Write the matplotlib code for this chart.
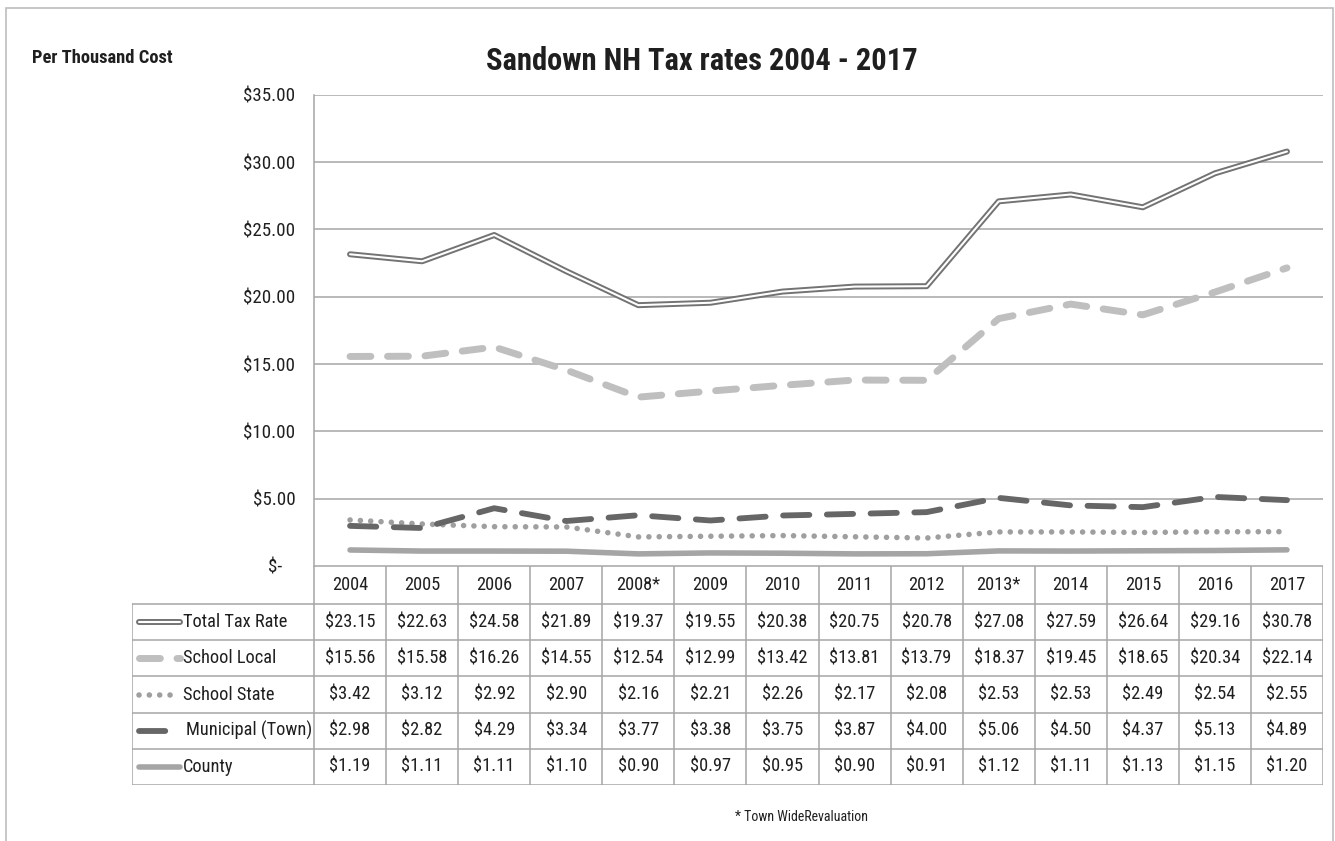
import matplotlib
matplotlib.use("Agg")
import matplotlib.pyplot as plt
from matplotlib import font_manager
from matplotlib.patches import Rectangle

# ---------------- data ----------------
years = ["2004", "2005", "2006", "2007", "2008*", "2009", "2010", "2011",
         "2012", "2013*", "2014", "2015", "2016", "2017"]
series_names = ["Total Tax Rate", "School Local", "School State",
                "Municipal (Town)", "County"]
total_tax = [23.15, 22.63, 24.58, 21.89, 19.37, 19.55, 20.38, 20.75, 20.78,
             27.08, 27.59, 26.64, 29.16, 30.78]
school_local = [15.56, 15.58, 16.26, 14.55, 12.54, 12.99, 13.42, 13.81, 13.79,
                18.37, 19.45, 18.65, 20.34, 22.14]
school_state = [3.42, 3.12, 2.92, 2.90, 2.16, 2.21, 2.26, 2.17, 2.08,
                2.53, 2.53, 2.49, 2.54, 2.55]
municipal = [2.98, 2.82, 4.29, 3.34, 3.77, 3.38, 3.75, 3.87, 4.00,
             5.06, 4.50, 4.37, 5.13, 4.89]
county = [1.19, 1.11, 1.11, 1.10, 0.90, 0.97, 0.95, 0.90, 0.91,
          1.12, 1.11, 1.13, 1.15, 1.20]
y_ticks = [0, 5, 10, 15, 20, 25, 30, 35]
title = "Sandown NH Tax rates 2004 - 2017"
y_label = "Per Thousand Cost"
footnote = "* Town WideRevaluation"

# ---------------- fonts ----------------
avail = {f.name for f in font_manager.fontManager.ttflist}
if "Liberation Sans Narrow" in avail:
    FAM = ["Liberation Sans Narrow", "DejaVu Sans"]
elif "Roboto Condensed" in avail:
    FAM = ["Roboto Condensed", "DejaVu Sans"]
else:
    FAM = ["Liberation Sans", "DejaVu Sans"]
plt.rcParams["font.family"] = FAM

W, H = 1335, 841
fig = plt.figure(figsize=(W / 100, H / 100), dpi=100)


def fx(px):
    return px / W


def fy(py):
    return 1 - py / H


TXT = "#1f1f1f"
GRID = "#a6a6a6"
FS = 13.2

# layout in pixels
PL, PR, PT, P0 = 314, 1323, 94.7, 566
TL, TB = 132, 785
col_w = (PR - PL) / len(years)

ax = fig.add_axes([fx(PL), fy(P0), (PR - PL) / W, (P0 - PT) / H])
ax.set_xlim(-0.5, len(years) - 0.5)
ax.set_ylim(0, 35)
ax.set_yticks(y_ticks)
ax.set_yticklabels([("$%.2f" % v) if v else "$-   " for v in y_ticks],
                   fontsize=FS + 0.5, color=TXT)
ax.tick_params(axis="y", length=0, pad=13.5)
ax.set_xticks([])
for s in ["top", "right", "bottom"]:
    ax.spines[s].set_visible(False)
ax.spines["left"].set_color(GRID)
ax.spines["left"].set_linewidth(1.1)
ax.yaxis.grid(True, color=GRID, linewidth=1.1)
ax.set_axisbelow(True)

styles = [
    dict(color="#737373", lw=4.3, solid_capstyle="round"),
    dict(color="#bfbfbf", lw=5.0, linestyle=(0, (3, 2.4)), dash_capstyle="round"),
    dict(color="#9f9f9f", lw=4.0, linestyle=(0, (0.01, 1.85)), dash_capstyle="round"),
    dict(color="#666666", lw=4.2, linestyle=(0, (4.5, 3.0)), dash_capstyle="round"),
    dict(color="#a5a5a5", lw=4.0, solid_capstyle="round"),
]
inner_total = dict(color="white", lw=1.5, solid_capstyle="round")

data = [total_tax, school_local, school_state, municipal, county]
xs = list(range(len(years)))
for vals, st in zip(data, styles):
    ax.plot(xs, vals, **st)
    if st is styles[0]:
        ax.plot(xs, vals, **inner_total)

# ---------------- data table ----------------
tab = fig.add_axes([fx(TL), fy(TB), (PR - TL) / W, (TB - P0) / H])
x_left = -0.5 - (PL - TL) / col_w
tab.set_xlim(x_left, len(years) - 0.5)
hdr = (604 - P0) / ((TB - 604) / 5)
tab.set_ylim(5, -hdr)
tab.axis("off")

n = len(series_names)
LC = GRID
LW = 1.1
# horizontal lines
tab.plot([-0.5, len(years) - 0.5], [-hdr, -hdr], color=LC, lw=LW)
for r in range(n + 1):
    tab.plot([x_left, len(years) - 0.5], [r, r], color=LC, lw=LW)
# vertical lines
tab.plot([x_left, x_left], [0, n], color=LC, lw=LW)
for k in range(len(years) + 1):
    tab.plot([k - 0.5, k - 0.5], [-hdr, n], color=LC, lw=LW)

for i, yl in enumerate(years):
    tab.text(i, -hdr / 2, yl, ha="center", va="center", fontsize=FS, color=TXT)
for r, vals in enumerate(data):
    for i, v in enumerate(vals):
        tab.text(i, r + 0.5, "$%.2f" % v, ha="center", va="center",
                 fontsize=FS, color=TXT)


def px2x(px):
    return -0.5 + (px - PL) / col_w


for r, (name, st) in enumerate(zip(series_names, styles)):
    key_end = 166 if r == 3 else 180
    text_x = 186 if r == 3 else 183
    tab.plot([px2x(139), px2x(key_end)], [r + 0.5, r + 0.5], **st)
    if r == 0:
        tab.plot([px2x(139), px2x(key_end)], [r + 0.5, r + 0.5], **inner_total)
    tab.text(px2x(text_x), r + 0.5, name, ha="left", va="center",
             fontsize=FS, color=TXT)

# ---------------- texts ----------------
fig.text(fx(702), fy(70), title, ha="center", va="baseline",
         fontsize=22, fontweight="bold", color=TXT)
fig.text(fx(32), fy(63), y_label, ha="left", va="baseline",
         fontsize=13.3, fontweight="bold", color=TXT)
fig.text(fx(735), fy(821), footnote, ha="left", va="baseline",
         fontsize=10, color=TXT)

# outer border
fig.add_artist(Rectangle((fx(6), -0.02), fx(1333) - fx(6), fy(7.5) + 0.02,
                         transform=fig.transFigure, fill=False,
                         edgecolor="#bdbdbd", lw=1.2))

fig.savefig("out.png", dpi=100)
